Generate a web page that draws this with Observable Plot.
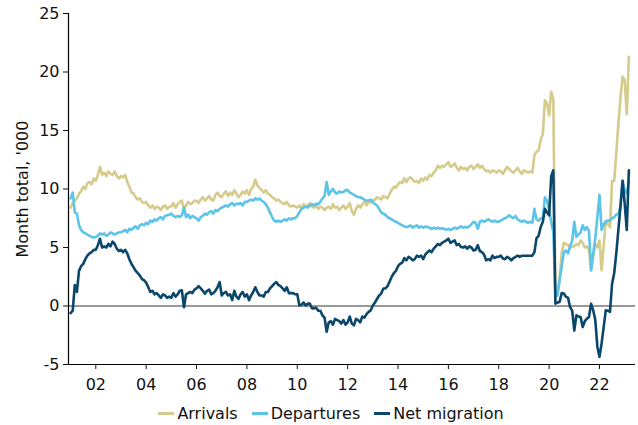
<!DOCTYPE html>
<html><head><meta charset="utf-8">
<script src="https://cdn.jsdelivr.net/npm/d3@7"></script>
<script src="https://cdn.jsdelivr.net/npm/@observablehq/plot@0.6"></script>
<style>
body{margin:0;background:#fff;font-family:"DejaVu Sans",Verdana,sans-serif;}
#legend{display:flex;justify-content:center;padding-left:24px;gap:14px;font-size:16px;color:#111;height:36px;align-items:center;}
.item{display:flex;align-items:center;}
.sw{width:16px;height:3px;margin-right:3px;}
</style></head><body>
<div id="chart"></div>
<div id="legend"></div>
<script>
// Monthly values, Jan 2001 .. Mar 2023 ('000)
const startYear = 2001;
const arrivals = [
 8.4, 8.8, 9.0, 9.2, 9.6, 9.8, 10.2, 10.0, 10.5, 10.6, 10.4, 10.9,
 10.7, 11.2, 11.9, 11.2, 11.4, 11.1, 11.5, 11.3, 11.2, 11.5, 11.1, 10.9,
 11.1, 11.0, 11.2, 10.6, 10.2, 9.7, 9.6, 9.3, 9.1, 9.2, 8.9, 8.8,
 8.9, 8.6, 8.4, 8.6, 8.3, 8.5, 8.4, 8.2, 8.5, 8.6, 8.3, 8.5,
 8.5, 8.8, 8.4, 8.7, 8.9, 9.0, 8.3, 8.6, 8.9, 8.7, 8.8, 9.0,
 9.0, 8.8, 9.1, 9.3, 9.0, 9.2, 9.4, 9.1, 9.0, 9.5, 9.7, 9.4,
 9.3, 9.6, 9.8, 9.4, 9.7, 9.5, 9.9, 9.6, 9.3, 9.5, 9.8, 9.6,
 9.9, 9.5, 10.0, 10.2, 10.8, 10.3, 10.1, 9.9, 9.7, 9.9, 9.6, 9.5,
 9.3, 9.2, 9.0, 9.1, 8.9, 8.8, 8.7, 8.9, 8.6, 8.5, 8.6, 8.5,
 8.4, 8.6, 8.3, 8.7, 8.5, 8.6, 8.8, 8.5, 8.4, 8.6, 8.3, 8.5,
 8.4, 8.2, 8.4, 8.5, 8.3, 8.7, 8.4, 8.5, 8.2, 8.4, 8.6, 8.3,
 8.5, 8.8, 8.1, 7.8, 8.3, 8.6, 8.4, 8.7, 8.9, 8.6, 9.0, 8.8,
 9.0, 9.1, 9.3, 9.2, 9.1, 9.4, 9.3, 9.2, 9.6, 9.9, 10.2, 10.1,
 10.4, 10.6, 10.5, 10.9, 10.6, 10.9, 11.0, 10.8, 10.6, 10.7, 10.5, 10.9,
 10.7, 11.0, 10.8, 11.2, 11.1, 11.4, 11.6, 12.0, 11.8, 12.0, 11.9, 12.1,
 12.3, 11.9, 12.0, 12.2, 11.8, 11.6, 11.9, 11.7, 11.8, 11.6, 11.9, 12.0,
 11.7, 11.9, 12.1, 11.8, 12.0, 11.7, 11.5, 11.6, 11.4, 11.6, 11.5, 11.4,
 11.6, 11.5, 11.3, 11.6, 11.9, 11.7, 11.5, 11.4, 11.6, 11.8, 11.5, 11.3,
 11.6, 11.5, 11.4, 11.5, 11.4, 12.9, 13.2, 13.3, 14.2, 14.7, 17.6, 17.3,
 16.3, 18.3, 17.7, 1.0, 1.1, 2.5, 4.5, 5.4, 5.3, 5.2, 5.0, 5.1,
 5.1, 5.3, 5.2, 5.6, 5.4, 5.0, 5.1, 4.8, 3.05, 4.2, 5.3, 5.0,
 5.6, 3.05, 5.2, 7.3, 7.0, 6.75, 10.7, 10.7, 13.0, 15.6, 17.8, 19.6,
 19.3, 16.4, 21.3
];
const departures = [
 9.2, 9.7, 8.0, 7.9, 6.9, 6.5, 6.3, 6.2, 6.1, 6.0, 5.9, 5.85,
 5.9, 6.0, 6.2, 6.1, 6.2, 6.0, 6.1, 6.3, 6.2, 6.1, 6.2, 6.3,
 6.3, 6.4, 6.5, 6.3, 6.6, 6.5, 6.7, 6.8, 6.6, 6.9, 7.0, 6.9,
 7.1, 7.0, 7.3, 7.2, 7.4, 7.3, 7.5, 7.6, 7.4, 7.7, 7.75, 7.8,
 7.9, 7.7, 7.6, 7.7, 7.6, 7.75, 8.4, 7.6, 7.8, 7.5, 7.7, 7.6,
 7.5, 7.3, 7.6, 7.7, 7.9, 7.8, 8.0, 8.1, 7.9, 8.2, 8.1, 8.3,
 8.4, 8.5, 8.6, 8.5, 8.7, 8.8, 8.6, 8.75, 8.7, 8.8, 8.6, 8.9,
 8.9, 9.0, 9.1, 9.0, 9.2, 9.1, 9.2, 9.0, 8.9, 8.7, 8.4, 8.0,
 7.6, 7.3, 7.2, 7.3, 7.2, 7.3, 7.4, 7.3, 7.5, 7.4, 7.5, 7.5,
 7.7, 8.0, 8.3, 8.4, 8.5, 8.4, 8.6, 8.7, 8.6, 8.75, 8.7, 8.9,
 9.2, 9.4, 10.6, 9.5, 9.8, 10.0, 9.7, 9.6, 9.8, 9.7, 9.75, 9.9,
 9.9, 9.7, 9.6, 9.5, 9.4, 9.3, 9.3, 9.2, 9.1, 9.0, 9.0, 9.1,
 8.9, 8.7, 8.6, 8.3, 8.0, 7.9, 7.8, 7.6, 7.5, 7.4, 7.3, 7.2,
 7.1, 7.0, 6.9, 6.8, 6.75, 6.8, 6.9, 6.7, 6.8, 6.9, 6.7, 6.8,
 6.7, 6.8, 6.75, 6.7, 6.6, 6.7, 6.6, 6.7, 6.6, 6.65, 6.6, 6.5,
 6.6, 6.5, 6.6, 6.7, 6.6, 6.7, 6.8, 6.7, 6.75, 6.7, 6.8, 7.0,
 7.2, 7.1, 6.6, 7.2, 7.3, 7.2, 7.3, 7.4, 7.3, 7.2, 7.3, 7.2,
 7.2, 7.3, 7.4, 7.5, 7.6, 7.75, 7.6, 7.5, 7.7, 7.4, 7.3, 7.2,
 7.3, 7.2, 7.1, 7.2, 7.1, 8.3, 7.4, 7.3, 7.5, 7.5, 9.3, 9.0,
 8.2, 7.2, 6.3, 0.8, 0.9, 2.2, 3.4, 4.6, 4.75, 4.5, 5.1, 5.6,
 7.2, 5.9, 6.1, 6.3, 6.9, 6.5, 6.75, 6.4, 3.05, 4.5, 5.8, 7.6,
 9.5, 6.5, 7.0, 7.2, 7.3, 7.3, 7.5, 7.6, 7.8, 7.9, 8.5, 10.7,
 9.9, 9.6, 10.7
];
const netMigration = [
 -0.6, -0.4, 1.8, 1.2, 3.0, 3.4, 3.6, 4.0, 4.3, 4.5, 4.6, 4.8,
 4.8, 5.2, 5.75, 5.0, 5.1, 5.0, 5.3, 5.1, 5.5, 5.3, 4.9, 4.7,
 4.8, 4.6, 4.8, 4.5, 4.0, 3.6, 3.3, 3.0, 2.8, 2.6, 2.3, 2.2,
 2.0, 1.6, 1.2, 1.3, 1.0, 1.1, 0.9, 0.7, 1.0, 0.9, 0.7, 0.8,
 0.7, 1.1, 0.8, 1.0, 1.3, 1.35, -0.1, 1.0, 1.1, 1.2, 1.1, 1.4,
 1.5, 1.7, 1.5, 1.3, 1.06, 1.3, 1.4, 1.0, 1.1, 1.3, 1.6, 2.05,
 0.9, 1.1, 1.2, 0.9, 1.0, 0.5, 1.3, 0.8, 0.6, 1.0, 1.2, 0.8,
 1.0, 0.5, 0.9, 1.2, 1.6, 1.2, 0.9, 0.9, 0.8, 1.2, 1.2, 1.5,
 1.7, 1.9, 2.05, 1.8, 1.7, 1.5, 1.3, 1.6, 1.1, 1.1, 1.1, 1.0,
 1.0, 0.05, 0.1, 0.3, 0.05, 0.2, 0.2, -0.2, -0.2, -0.15, -0.4, -0.4,
 -0.8, -1.0, -2.2, -1.4, -1.3, -1.6, -1.1, -1.2, -1.3, -1.5, -1.2, -1.6,
 -1.4, -0.9, -1.5, -1.65, -1.1, -1.2, -1.4, -0.9, -1.0, -0.7, -0.5, -0.37,
 0.05, 0.3, 0.6, 0.9, 1.06, 1.5, 1.5, 1.7, 2.1, 2.5, 2.8, 3.0,
 3.4, 3.6, 3.7, 4.1, 3.9, 4.2, 4.1, 3.9, 4.0, 4.3, 4.2, 4.3,
 4.0, 4.4, 4.6, 4.75, 4.6, 4.9, 5.1, 5.3, 5.2, 5.4, 5.5, 5.6,
 5.75, 5.4, 5.5, 5.6, 5.2, 5.3, 5.05, 5.0, 5.1, 4.9, 5.1, 5.0,
 4.75, 4.8, 5.2, 4.7, 4.6, 4.4, 3.9, 4.0, 3.9, 4.3, 4.1, 4.2,
 4.2, 4.3, 4.05, 4.0, 4.2, 4.1, 3.9, 4.1, 4.2, 4.3, 4.2, 4.3,
 4.3, 4.3, 4.3, 4.3, 4.3, 4.6, 5.8, 6.0, 6.75, 7.2, 8.3, 8.0,
 7.75, 11.1, 11.6, 0.2, 0.3, 0.35, 1.1, 1.06, 0.8, 0.7, -0.1, -0.4,
 -2.1, -0.8, -0.9, -0.95, -1.8, -1.3, -1.1, -0.95, 0.2, -0.37, -1.2, -3.5,
 -4.35, -3.2, -1.8, -0.37, -0.4, -0.5, 1.9, 2.8, 4.5, 6.5, 8.5, 10.7,
 8.75, 6.5, 11.6
];
const seriesNames = ["Arrivals", "Departures", "Net migration"];
const seriesColors = ["#d4cb8c", "#5bc4e8", "#0b466b"];
const xTickYears = [2002, 2004, 2006, 2008, 2010, 2012, 2014, 2016, 2018, 2020, 2022];
const xTickLabels = ["02", "04", "06", "08", "10", "12", "14", "16", "18", "20", "22"];
const yTicks = [-5, 0, 5, 10, 15, 20, 25];
const xDomain = [2000.916, 2023.43];
const yDomain = [-5, 25];
const yTitle = "Month total, '000";

const rows = [];
[arrivals, departures, netMigration].forEach((vals, s) =>
  vals.forEach((v, i) => rows.push({series: seriesNames[s], t: startYear + i / 12, v})));

const chart = Plot.plot({
  width: 638, height: 395,
  marginLeft: 68, marginRight: 3, marginTop: 13, marginBottom: 31,
  style: {fontFamily: "DejaVu Sans, Verdana, sans-serif", fontSize: "16px", color: "#111", background: "#fff"},
  x: {domain: xDomain, ticks: xTickYears, tickFormat: d => xTickLabels[xTickYears.indexOf(d)], tickSize: 5, tickPadding: 9, label: null},
  y: {domain: yDomain, ticks: yTicks, tickFormat: d => String(d), tickSize: 5, tickPadding: 4, label: null},
  color: {domain: seriesNames, range: seriesColors},
  marks: [
    Plot.ruleY([0], {stroke: "#777", strokeWidth: 1.5}),
    Plot.lineY(rows, {x: "t", y: "v", z: "series", stroke: "series", strokeWidth: 2.6}),
    Plot.ruleX([xDomain[0]], {stroke: "#000", strokeWidth: 1.2}),
    Plot.ruleY([yDomain[0]], {stroke: "#000", strokeWidth: 1.2}),
    Plot.text([yTitle], {frameAnchor: "left", dx: -46, rotate: -90, textAnchor: "middle", lineAnchor: "middle", text: d => d, fontSize: 16, fill: "#111"})
  ]
});
document.getElementById("chart").appendChild(chart);

const legend = document.getElementById("legend");
seriesNames.forEach((name, i) => {
  const item = document.createElement("div");
  item.className = "item";
  const sw = document.createElement("span");
  sw.className = "sw";
  sw.style.background = seriesColors[i];
  const label = document.createElement("span");
  label.textContent = name;
  item.appendChild(sw);
  item.appendChild(label);
  legend.appendChild(item);
});
</script>
</body></html>
